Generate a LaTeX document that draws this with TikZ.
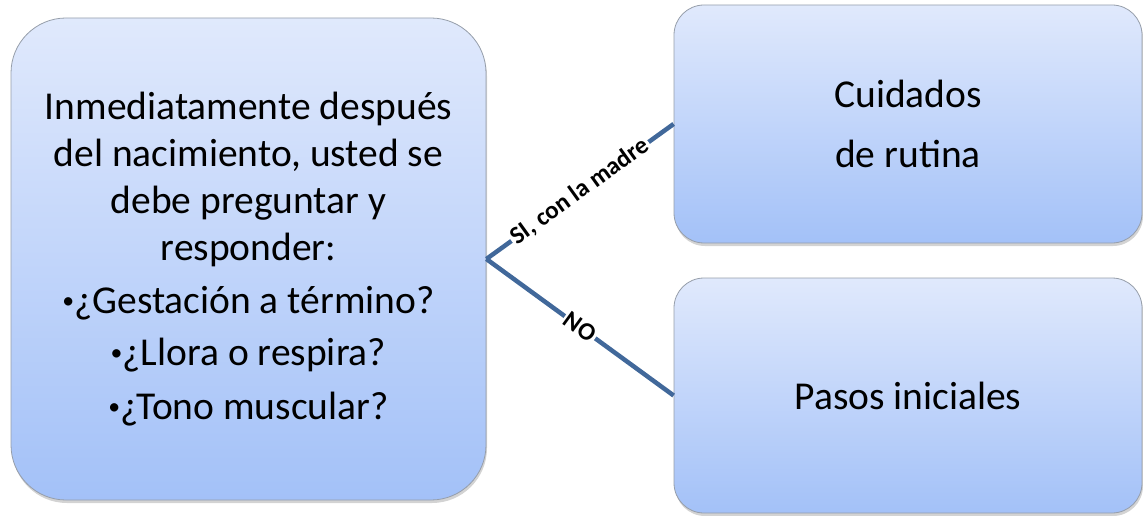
\documentclass[tikz,border=0pt]{standalone}
\usepackage{fontspec}
\setmainfont{Carlito}
\usetikzlibrary{shadows}
\definecolor{boxtop}{RGB}{224,233,252}
\definecolor{boxbot}{RGB}{163,193,248}
\definecolor{boxline}{RGB}{150,158,170}
\definecolor{linkcol}{RGB}{65,104,154}
\newcommand{\smallbul}{\raisebox{0.12em}{\scalebox{0.6}{•}}}
\tikzset{
  box/.style={draw=boxline, line width=0.8pt, top color=boxtop, bottom color=boxbot,
    align=center, font=\fontsize{39.5}{47}\selectfont,
    drop shadow={opacity=0.35, shadow xshift=1pt, shadow yshift=-3pt}},
  link/.style={draw=linkcol, line width=4.5pt},
  cond/.style={fill=white, sloped, inner sep=2pt, font=\fontsize{25}{27}\selectfont\bfseries}
}
\begin{document}
\begin{tikzpicture}[x=1pt,y=-1pt]
\useasboundingbox (0,0) rectangle (1143,516);
\node [box, rounded corners=55pt, minimum width=475pt, minimum height=482pt] (ask) at (248.5,259)
  {Inmediatamente después\\ del nacimiento, usted se\\ debe preguntar y\\ responder:\\[6pt]
   \smallbul¿Gestación a término?\\[5pt] \smallbul¿Llora o respira?\\[7pt] \smallbul¿Tono muscular?};
\node [box, rounded corners=30pt, minimum width=468pt, minimum height=238pt] (rutina) at (908,124)
  {Cuidados\\[13pt] de rutina};
\node [box, rounded corners=30pt, minimum width=468pt, minimum height=235pt] (pasos) at (908,395.5)
  {Pasos iniciales};
\draw [link] (ask.east) -- (rutina.west) node [cond, midway] {SI, con la madre};
\draw [link] (ask.east) -- (pasos.west) node [cond, midway] {NO};
\end{tikzpicture}
\end{document}
